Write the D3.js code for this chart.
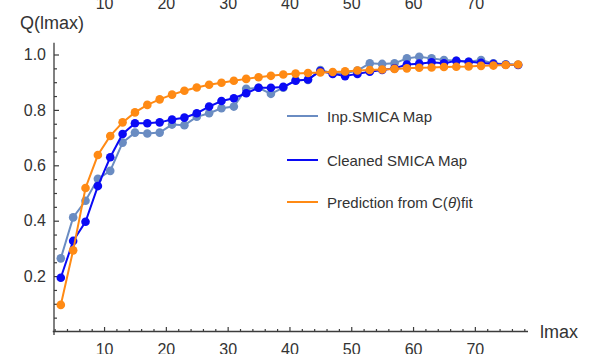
<!DOCTYPE html>
<html>
<head>
<meta charset="utf-8">
<script src="https://cdn.jsdelivr.net/npm/d3@7"></script>
<style>
  html, body { margin: 0; padding: 0; background: #fff; }
  svg { display: block; font-family: "Liberation Sans", Arial, sans-serif; }
</style>
</head>
<body>
<svg id="chart" width="590" height="354"></svg>
<script>
// Multipole cutoff lmax (odd values)
const lmax = [3, 5, 7, 9, 11, 13, 15, 17, 19, 21, 23, 25, 27, 29, 31, 33, 35, 37, 39,
              41, 43, 45, 47, 49, 51, 53, 55, 57, 59, 61, 63, 65, 67, 69, 71, 73, 75, 77];

const inpSmica = [0.264, 0.412, 0.472, 0.551, 0.580, 0.682, 0.718, 0.715, 0.718, 0.747,
                  0.745, 0.775, 0.788, 0.806, 0.812, 0.876, 0.880, 0.858, 0.880,
                  0.908, 0.908, 0.944, 0.932, 0.932, 0.942, 0.968, 0.966, 0.968, 0.986,
                  0.992, 0.986, 0.980, 0.977, 0.974, 0.980, 0.968, 0.965, 0.963];

const cleanedSmica = [0.194, 0.327, 0.396, 0.525, 0.629, 0.713, 0.752, 0.752, 0.755, 0.765,
                      0.772, 0.788, 0.812, 0.832, 0.842, 0.860, 0.880, 0.880, 0.883,
                      0.905, 0.910, 0.940, 0.930, 0.922, 0.930, 0.938, 0.944, 0.950, 0.964,
                      0.967, 0.972, 0.968, 0.977, 0.974, 0.970, 0.966, 0.963, 0.962];

const prediction = [0.096, 0.293, 0.518, 0.637, 0.706, 0.755, 0.791, 0.818, 0.838, 0.855,
                    0.869, 0.881, 0.891, 0.898, 0.905, 0.912, 0.918, 0.923, 0.928,
                    0.931, 0.933, 0.935, 0.937, 0.939, 0.942, 0.944, 0.946, 0.948, 0.950,
                    0.952, 0.953, 0.955, 0.956, 0.957, 0.959, 0.960, 0.962, 0.964];

const seriesNames = ["Inp.SMICA Map", "Cleaned SMICA Map", "Prediction from C(\u03B8)fit"];
const seriesColors = ["#6a8cc2", "#0a0af5", "#ff8a14"];

const xTicks = [10, 20, 30, 40, 50, 60, 70];
const yTicks = [0.2, 0.4, 0.6, 0.8, 1.0];

const svg = d3.select("#chart");
const axisColor = "#3c3c3c";
const labelColor = "#333";

const x = d3.scaleLinear().domain([1.9, 78.6]).range([54, 528]);
const y = d3.scaleLinear().domain([0, 1]).range([331.5, 54.5]);

// Tick labels of the panel above, clipped at the top edge
const topAxis = svg.append("g")
  .attr("transform", "translate(0,8.5)")
  .call(d3.axisTop(x).tickValues(xTicks).tickSize(0).tickPadding(0).tickFormat(d3.format("d")));
topAxis.select(".domain").remove();
topAxis.selectAll("text").attr("font-size", 16).attr("fill", labelColor).attr("font-family", null);

// Minor ticks
const xMinor = d3.range(2, 79, 2).filter(v => v % 10 !== 0);
const yMinor = d3.range(0.05, 1.04, 0.05).map(v => +v.toFixed(2)).filter(v => Math.abs(v * 5 - Math.round(v * 5)) > 1e-6);

const gx = svg.append("g").attr("transform", `translate(0,${y(0)})`);
gx.call(d3.axisBottom(x).tickValues(xMinor).tickSize(-2.5).tickFormat(""));
gx.call(g => g.select(".domain").remove());
const gxMajor = svg.append("g").attr("transform", `translate(0,${y(0)})`)
  .call(d3.axisBottom(x).tickValues(xTicks).tickSize(-4.5).tickPadding(12).tickFormat(d3.format("d")));
gxMajor.select(".domain").remove();

const gy = svg.append("g").attr("transform", `translate(${x(1.9)},0)`);
gy.call(d3.axisLeft(y).tickValues(yMinor).tickSize(-3).tickFormat(""));
gy.call(g => g.select(".domain").remove());
const gyMajor = svg.append("g").attr("transform", `translate(${x(1.9)},0)`)
  .call(d3.axisLeft(y).tickValues(yTicks).tickSize(-5).tickPadding(8).tickFormat(d3.format(".1f")));
gyMajor.select(".domain").remove();

svg.selectAll(".tick line").attr("stroke", axisColor).attr("stroke-width", 1.2);
[gxMajor, gyMajor].forEach(g => g.selectAll("text")
  .attr("font-size", 16).attr("fill", labelColor).attr("font-family", null));

// Axis lines
svg.append("line")
  .attr("x1", x(1.7)).attr("x2", x(78.6)).attr("y1", y(0)).attr("y2", y(0))
  .attr("stroke", axisColor).attr("stroke-width", 1.3);
svg.append("line")
  .attr("x1", x(1.9)).attr("x2", x(1.9)).attr("y1", y(-0.013)).attr("y2", y(1.042))
  .attr("stroke", axisColor).attr("stroke-width", 1.3);

// Axis labels
svg.append("text").attr("x", 52).attr("y", 23).attr("text-anchor", "middle")
  .attr("dominant-baseline", "central").attr("font-size", 18).attr("fill", labelColor)
  .text("Q(lmax)");
svg.append("text").attr("x", 540).attr("y", y(0)).attr("dominant-baseline", "central")
  .attr("font-size", 18).attr("fill", labelColor).text("lmax");

// Data series
const allSeries = [inpSmica, cleanedSmica, prediction];
const line = d3.line().x((d, i) => x(lmax[i])).y(d => y(d));
allSeries.forEach((vals, si) => {
  const g = svg.append("g");
  g.append("path").datum(vals).attr("d", line)
    .attr("fill", "none").attr("stroke", seriesColors[si]).attr("stroke-width", 2);
  g.selectAll("circle").data(vals).join("circle")
    .attr("cx", (d, i) => x(lmax[i])).attr("cy", d => y(d)).attr("r", 4.3)
    .attr("fill", seriesColors[si]);
});

// Legend
const legendY = [116, 160, 202];
const legend = svg.append("g");
seriesNames.forEach((name, i) => {
  legend.append("line").attr("x1", 287).attr("x2", 318)
    .attr("y1", legendY[i]).attr("y2", legendY[i])
    .attr("stroke", seriesColors[i]).attr("stroke-width", 2);
  const t = legend.append("text").attr("x", 327).attr("y", legendY[i])
    .attr("dominant-baseline", "central").attr("font-size", 15).attr("fill", labelColor);
  if (i === 2) {
    t.append("tspan").text("Prediction from C(");
    t.append("tspan").attr("font-style", "italic").text("\u03B8");
    t.append("tspan").text(")fit");
  } else {
    t.text(name);
  }
});
</script>
</body>
</html>
